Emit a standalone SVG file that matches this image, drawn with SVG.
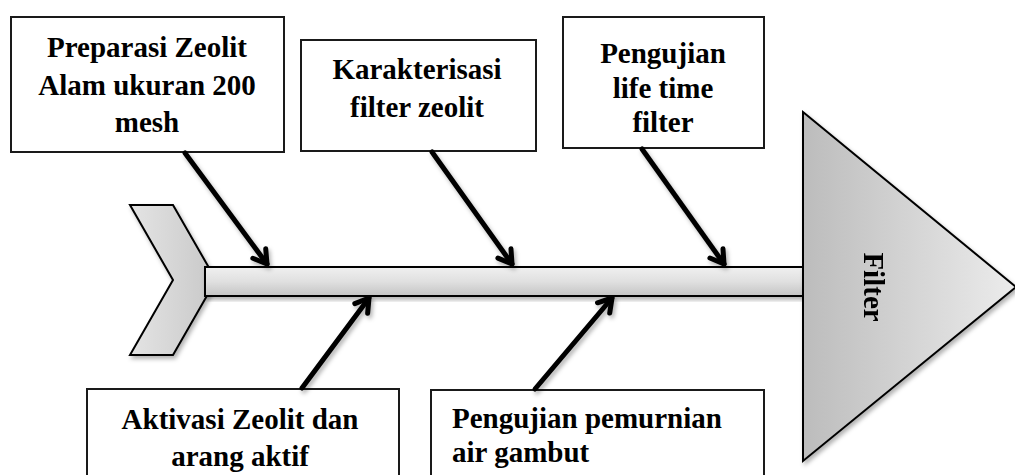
<svg xmlns="http://www.w3.org/2000/svg" width="1015" height="475" viewBox="0 0 1015 475">
  <style>
    .box { fill: #ffffff; stroke: #1a1a1a; stroke-width: 2; }
    .label { font-family: "Liberation Serif", "Times New Roman", serif; font-weight: bold; font-size: 29px; fill: #000000; }
    .bone { stroke: #000000; stroke-width: 5; fill: none; stroke-linecap: round; }
    .body { stroke: #000000; stroke-width: 2; stroke-linejoin: miter; }
  </style>
  <defs>
    <linearGradient id="spineFill" x1="0" y1="0" x2="0" y2="1">
      <stop offset="0" stop-color="#f0f0f0"/>
      <stop offset="0.5" stop-color="#e0e0e0"/>
      <stop offset="1" stop-color="#c4c4c4"/>
    </linearGradient>
    <linearGradient id="tailFill" x1="0" y1="0" x2="1" y2="0">
      <stop offset="0" stop-color="#e4e4e4"/>
      <stop offset="1" stop-color="#c8c8c8"/>
    </linearGradient>
    <linearGradient id="headFill" x1="0" y1="0" x2="1" y2="0">
      <stop offset="0" stop-color="#bcbcbc"/>
      <stop offset="1" stop-color="#ececec"/>
    </linearGradient>
    <filter id="shadow" x="-20%" y="-20%" width="140%" height="140%">
      <feDropShadow dx="2" dy="3" stdDeviation="2" flood-color="#000000" flood-opacity="0.3"/>
    </filter>
    <marker id="openHead" markerUnits="userSpaceOnUse" markerWidth="30" markerHeight="30" refX="0" refY="0" orient="auto" overflow="visible">
      <path d="M-13,-8 L0,0 L-13,8" fill="none" stroke="#000000" stroke-width="5" stroke-linecap="round" stroke-linejoin="round"/>
    </marker>
  </defs>

  <rect width="1015" height="475" fill="#ffffff"/>

  <!-- fish body: tail, spine and head -->
  <g id="tail" filter="url(#shadow)">
    <polygon class="body" points="130,205 173,205 216,280 173,355 130,355 173,280" fill="url(#tailFill)"/>
  </g>
  <g id="spine" filter="url(#shadow)">
    <rect class="body" x="205" y="267" width="598" height="29" fill="url(#spineFill)"/>
  </g>
  <g id="head" filter="url(#shadow)">
    <polygon class="body" points="803,112 1016,287 803,461" fill="url(#headFill)"/>
    <text class="label" transform="translate(864,287) rotate(90)" text-anchor="middle">Filter</text>
  </g>

  <!-- cause boxes -->
  <g id="preparasi">
    <rect class="box" x="11" y="17" width="273" height="135"/>
    <text class="label" x="147" y="57" text-anchor="middle">Preparasi Zeolit</text>
    <text class="label" x="147" y="95" text-anchor="middle">Alam ukuran 200</text>
    <text class="label" x="147" y="132" text-anchor="middle">mesh</text>
  </g>
  <g id="karakterisasi">
    <rect class="box" x="301" y="40" width="235" height="111"/>
    <text class="label" x="417" y="79" text-anchor="middle">Karakterisasi</text>
    <text class="label" x="417" y="117" text-anchor="middle">filter zeolit</text>
  </g>
  <g id="lifetime">
    <rect class="box" x="563" y="17" width="201" height="131"/>
    <text class="label" x="663" y="63" text-anchor="middle">Pengujian</text>
    <text class="label" x="663" y="98" text-anchor="middle">life time</text>
    <text class="label" x="663" y="132" text-anchor="middle">filter</text>
  </g>
  <g id="aktivasi">
    <rect class="box" x="87" y="389" width="312" height="95"/>
    <text class="label" x="240" y="429" text-anchor="middle">Aktivasi Zeolit dan</text>
    <text class="label" x="240" y="466" text-anchor="middle">arang aktif</text>
  </g>
  <g id="pemurnian">
    <rect class="box" x="431" y="390" width="333" height="95"/>
    <text class="label" x="452" y="428">Pengujian pemurnian</text>
    <text class="label" x="452" y="462">air gambut</text>
  </g>

  <!-- connectors: bones into the spine -->
  <g id="connectors" filter="url(#shadow)">
    <line class="bone" x1="185" y1="153" x2="267" y2="264" marker-end="url(#openHead)"/>
    <line class="bone" x1="432" y1="152" x2="512" y2="264" marker-end="url(#openHead)"/>
    <line class="bone" x1="642" y1="149" x2="724" y2="264" marker-end="url(#openHead)"/>
    <line class="bone" x1="302" y1="388" x2="369" y2="298" marker-end="url(#openHead)"/>
    <line class="bone" x1="535" y1="389" x2="612" y2="298" marker-end="url(#openHead)"/>
  </g>
</svg>
